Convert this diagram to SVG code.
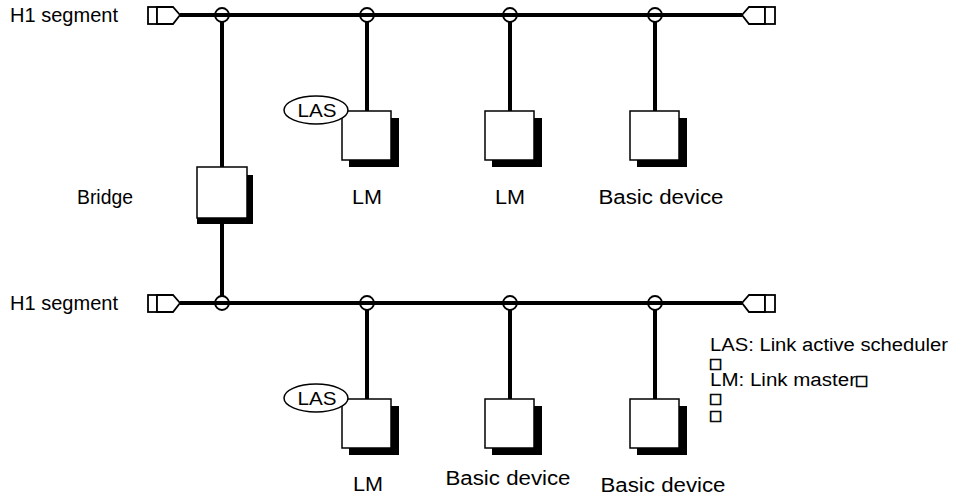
<svg xmlns="http://www.w3.org/2000/svg" width="953" height="499" viewBox="0 0 953 499">
<style>
text{font-family:"Liberation Sans",Arial,"DejaVu Sans",sans-serif;fill:#000}
.lbl{font-size:20px}
.las{font-size:19px}
.leg{font-size:18px}
.tofu{font-family:"DejaVu Sans",sans-serif;font-size:14px;stroke:#000;stroke-width:0.7}
.bus{stroke:#000;stroke-width:4;fill:none}
.drop{stroke:#000;stroke-width:4;fill:none}
.tap{stroke:#000;stroke-width:1.8;fill:none}
.term{stroke:#000;stroke-width:1.8;fill:#fff}
.box{stroke:#000;stroke-width:1.5;fill:#fff}
.shadow{fill:#000}
.ell{stroke:#000;stroke-width:1.5;fill:#fff}
</style>
<defs>
<g id="dev">
<rect class="shadow" x="-18" y="7" width="50" height="49"/>
<rect class="box" x="-25" y="0" width="49" height="49"/>
</g>
</defs>

<g id="connectors">
<line class="bus" x1="180" y1="15" x2="742" y2="15"/>
<line class="bus" x1="180" y1="303" x2="742" y2="303"/>
<line class="drop" x1="222" y1="22" x2="222" y2="167"/>
<line class="drop" x1="222" y1="220" x2="222" y2="296"/>
<line class="drop" x1="367" y1="22" x2="367" y2="111"/>
<line class="drop" x1="510" y1="22" x2="510" y2="111"/>
<line class="drop" x1="655" y1="22" x2="655" y2="111"/>
<line class="drop" x1="367" y1="310" x2="367" y2="399"/>
<line class="drop" x1="510" y1="310" x2="510" y2="399"/>
<line class="drop" x1="655" y1="310" x2="655" y2="399"/>
<circle class="tap" cx="222" cy="15" r="7"/>
<circle class="tap" cx="367" cy="15" r="7"/>
<circle class="tap" cx="510" cy="15" r="7"/>
<circle class="tap" cx="655" cy="15" r="7"/>
<circle class="tap" cx="222" cy="303" r="7"/>
<circle class="tap" cx="367" cy="303" r="7"/>
<circle class="tap" cx="510" cy="303" r="7"/>
<circle class="tap" cx="655" cy="303" r="7"/>
</g>

<g id="seg1-left-terminator">
<rect class="term" x="148" y="7" width="9" height="17"/>
<polygon class="term" points="157,7 173,7 180,15 173,24 157,24"/>
</g>
<g id="seg1-right-terminator">
<polygon class="term" points="765,7 749,7 742,15 749,24 765,24"/>
<rect class="term" x="765" y="7" width="10" height="17"/>
</g>
<g id="seg2-left-terminator">
<rect class="term" x="148" y="295" width="9" height="17"/>
<polygon class="term" points="157,295 173,295 180,303 173,312 157,312"/>
</g>
<g id="seg2-right-terminator">
<polygon class="term" points="765,295 749,295 742,303 749,312 765,312"/>
<rect class="term" x="765" y="295" width="10" height="17"/>
</g>

<g id="label-seg1"><text class="lbl" x="10" y="22" textLength="108" lengthAdjust="spacingAndGlyphs">H1 segment</text></g>
<g id="label-seg2"><text class="lbl" x="10" y="310" textLength="108" lengthAdjust="spacingAndGlyphs">H1 segment</text></g>

<g id="bridge">
<path class="shadow" d="M247,175 H253 V224 H197 V218 H247 Z"/>
<rect class="box" x="197" y="167" width="50" height="51"/>
<text class="lbl" x="77" y="204" textLength="56" lengthAdjust="spacingAndGlyphs">Bridge</text>
</g>

<g id="dev-top-1">
<use href="#dev" x="367" y="111"/>
<ellipse class="ell" cx="316" cy="110" rx="32" ry="14"/>
<text class="las" x="317" y="117" text-anchor="middle" textLength="39" lengthAdjust="spacingAndGlyphs">LAS</text>
<text class="lbl" x="367" y="204" text-anchor="middle" textLength="30" lengthAdjust="spacingAndGlyphs">LM</text>
</g>
<g id="dev-top-2">
<use href="#dev" x="510" y="111"/>
<text class="lbl" x="510" y="204" text-anchor="middle" textLength="30" lengthAdjust="spacingAndGlyphs">LM</text>
</g>
<g id="dev-top-3">
<use href="#dev" x="655" y="111"/>
<text class="lbl" x="661" y="204" text-anchor="middle" textLength="125" lengthAdjust="spacingAndGlyphs">Basic device</text>
</g>

<g id="dev-bot-1">
<use href="#dev" x="367" y="399"/>
<ellipse class="ell" cx="316" cy="398" rx="32" ry="14"/>
<text class="las" x="317" y="405" text-anchor="middle" textLength="39" lengthAdjust="spacingAndGlyphs">LAS</text>
<text class="lbl" x="368" y="491" text-anchor="middle" textLength="30" lengthAdjust="spacingAndGlyphs">LM</text>
</g>
<g id="dev-bot-2">
<use href="#dev" x="510" y="399"/>
<text class="lbl" x="508" y="485" text-anchor="middle" textLength="125" lengthAdjust="spacingAndGlyphs">Basic device</text>
</g>
<g id="dev-bot-3">
<use href="#dev" x="655" y="399"/>
<text class="lbl" x="663" y="492" text-anchor="middle" textLength="125" lengthAdjust="spacingAndGlyphs">Basic device</text>
</g>

<g id="legend">
<text class="leg" x="710" y="351" textLength="238" lengthAdjust="spacingAndGlyphs">LAS: Link active scheduler</text>
<text class="tofu" x="709" y="368">□</text>
<text class="leg" x="710" y="386" textLength="146" lengthAdjust="spacingAndGlyphs">LM: Link master</text><text class="tofu" x="855" y="385">□</text>
<text class="tofu" x="709" y="403">□</text>
<text class="tofu" x="709" y="420">□</text>
</g>
</svg>
